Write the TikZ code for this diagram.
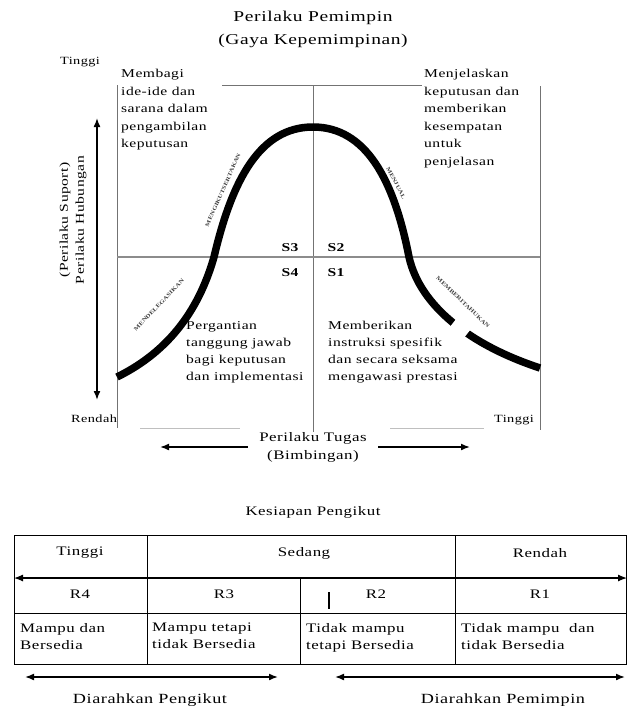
\documentclass[tikz,border=0pt]{standalone}
\usepackage{fontspec}
\setmainfont{Liberation Serif}[FakeStretch=1.3,LetterSpace=4]
\usetikzlibrary{arrows.meta}

\begin{document}
\begin{tikzpicture}[x=1pt,y=-1pt,>={Latex[length=9pt,width=7pt]},
  quad/.style={align=left,anchor=north west,inner sep=0pt,font=\fontsize{12}{17.5}\selectfont},
  curvelab/.style={font=\fontsize{5.5}{6}\selectfont\bfseries\addfontfeatures{LetterSpace=0},text=black!75,inner sep=1pt},
  slab/.style={font=\fontsize{12}{12}\selectfont\bfseries},
  frameline/.style={black!55,line width=0.8pt},
  cell/.style={align=left,anchor=north west,inner sep=0pt,font=\fontsize{13}{17}\selectfont}]
  \useasboundingbox (0,0) rectangle (628,710);

  % title
  \node[font=\fontsize{15}{23}\selectfont,align=center] (title) at (313,29) {Perilaku Pemimpin\\(Gaya Kepemimpinan)};

  % quadrant frame
  \draw[frameline] (117,85) -- (117,428);
  \draw[frameline] (540,86) -- (540,430);
  \draw[frameline] (222,85) -- (422,85);
  \draw[frameline] (313,85) -- (313,432);
  \draw[black!45,line width=1.6pt] (117,257) -- (540,257);
  \draw[black!25] (140,428) -- (240,428) (390,428) -- (484,428);

  % bell curve
  \draw[line width=7.5pt] (117,377) .. controls (172,350) and (200,306) .. (214,257)
    .. controls (232,180) and (260,127) .. (313,127)
    .. controls (366,127) and (394,180) .. (409,257)
    .. controls (420,306) and (470,345) .. (540,368);
  \draw[white,line width=11pt] (453,323) -- (467,334);

  % curve labels
  \node[curvelab,rotate=66] (lbl3) at (223,190) {MENGIKUTSERTAKAN};
  \node[curvelab,rotate=-62] (lbl2) at (396,183) {MENJUAL};
  \node[curvelab,rotate=46] (lbl4) at (159,305) {MENDELEGASIKAN};
  \node[curvelab,rotate=-44] (lbl1) at (463,302) {MEMBERITAHUKAN};

  % styles
  \node[slab] (s3) at (290,248) {S3};
  \node[slab] (s2) at (336,248) {S2};
  \node[slab] (s4) at (290,273) {S4};
  \node[slab] (s1) at (336,273) {S1};

  % quadrant texts
  \node[quad] (t3) at (121,69) {Membagi\\ide-ide dan\\sarana dalam\\pengambilan\\keputusan};
  \node[quad] (t2) at (424,69) {Menjelaskan\\keputusan dan\\memberikan\\kesempatan\\untuk\\penjelasan};
  \node[quad,font=\fontsize{12}{17}\selectfont] (t4) at (186,321) {Pergantian\\tanggung jawab\\bagi keputusan\\dan implementasi};
  \node[quad,font=\fontsize{12}{17}\selectfont] (t1) at (328,321) {Memberikan\\instruksi spesifik\\dan secara seksama\\mengawasi prestasi};

  % vertical axis
  \coordinate (yhi) at (97,118);
  \coordinate (ylo) at (97,400);
  \draw[<->,line width=1.6pt] (yhi) -- (ylo);
  \node[rotate=90,align=center,font=\fontsize{12}{16}\selectfont] (ylab) at (73,220) {(Perilaku Suport)\\Perilaku Hubungan};
  \node[font=\fontsize{11}{11}\selectfont] (hightop) at (80,62) {Tinggi};
  \node[font=\fontsize{11}{11}\selectfont] (lowleft) at (94,419) {Rendah};
  \node[font=\fontsize{11}{11}\selectfont] (highright) at (514,420) {Tinggi};

  % horizontal axis
  \node[align=center,font=\fontsize{13}{18}\selectfont] (tugas) at (313,447) {Perilaku Tugas\\(Bimbingan)};
  \coordinate (xlo) at (160,447);
  \coordinate (xhi) at (470,447);
  \draw[->,line width=1.6pt] ([xshift=-8pt]tugas.west) -- (xlo);
  \draw[->,line width=1.6pt] ([xshift=8pt]tugas.east) -- (xhi);

  % readiness table
  \node[font=\fontsize{13}{13}\selectfont] (kesiapan) at (313,512) {Kesiapan Pengikut};
  \draw[line width=0.9pt] (14,535) rectangle (626,664);
  \draw[line width=0.9pt] (14,613) -- (626,613);
  \draw[line width=0.9pt] (147,535) -- (147,664) (455,535) -- (455,664) (300,578) -- (300,664);
  \coordinate (rl) at (14,578);
  \coordinate (rr) at (627,578);
  \draw[<->,line width=1.2pt] (rl) -- (rr);
  \draw[line width=2.5pt] (329,592) -- (329,609);

  \node[font=\fontsize{13}{13}\selectfont] (tinggi) at (80,553) {Tinggi};
  \node[font=\fontsize{13}{13}\selectfont] (sedang) at (304,553) {Sedang};
  \node[font=\fontsize{13}{13}\selectfont] (rendah) at (540,553) {Rendah};

  \node[font=\fontsize{13}{13}\selectfont] (r4) at (80,594) {R4};
  \node[font=\fontsize{13}{13}\selectfont] (r3) at (224,594) {R3};
  \node[font=\fontsize{13}{13}\selectfont] (r2) at (376,594) {R2};
  \node[font=\fontsize{13}{13}\selectfont] (r1) at (540,594) {R1};

  \node[cell] (d4) at (20,623) {Mampu dan\\Bersedia};
  \node[cell] (d3) at (152,623) {Mampu tetapi\\tidak Bersedia};
  \node[cell] (d2) at (306,623) {Tidak mampu\\tetapi Bersedia};
  \node[cell] (d1) at (461,623) {Tidak mampu\ \ dan\\tidak Bersedia};

  % direction arrows
  \coordinate (pl) at (25,677);
  \coordinate (pr) at (278,677);
  \coordinate (ml) at (335,677);
  \coordinate (mr) at (625,677);
  \draw[<->,line width=1.6pt] (pl) -- (pr);
  \draw[<->,line width=1.6pt] (ml) -- (mr);
  \node[font=\fontsize{14}{14}\selectfont] (pengikut) at (150,700) {Diarahkan Pengikut};
  \node[font=\fontsize{14}{14}\selectfont] (pemimpin) at (503,700) {Diarahkan Pemimpin};
\end{tikzpicture}
\end{document}
